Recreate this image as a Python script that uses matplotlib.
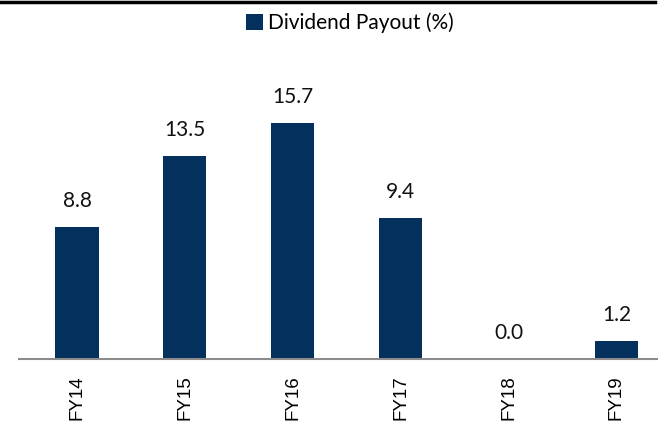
import matplotlib
matplotlib.use("Agg")
import matplotlib.pyplot as plt
from matplotlib.lines import Line2D

years = ["FY14", "FY15", "FY16", "FY17", "FY18", "FY19"]
payout = [8.8, 13.5, 15.7, 9.4, 0.0, 1.2]

NAVY = "#04305e"

fig = plt.figure(figsize=(6.58, 4.22), dpi=100)
# axes: left edge at x=19px, bottom at y=359px, top at y=40px
ax = fig.add_axes([19 / 658, (422 - 359) / 422, 1 - 19 / 658, (359 - 40) / 422])

x = list(range(len(years)))
ax.bar(x, payout, width=0.4, color=NAVY, label="Dividend Payout (%)", zorder=2)

for xi, v in zip(x, payout):
    ax.text(xi, v + 1.05, f"{v:.1f}", ha="center", va="bottom",
            fontsize=15, family="Lato", color="#111111")

ax.set_xlim(-0.5375, 5.385)
ax.set_ylim(0, (359 - 40) / 15.03)
ax.set_xticks(x)
ax.set_xticklabels(years, rotation=90, fontsize=13.5, family="Liberation Sans",
                   va="top")
ax.tick_params(axis="x", length=0, pad=12)
ax.set_yticks([])
for s in ["top", "right", "left"]:
    ax.spines[s].set_visible(False)
ax.spines["bottom"].set_color("#8c8c8c")
ax.spines["bottom"].set_linewidth(1.5)

fig.legend(loc="center", bbox_to_anchor=(350 / 658, 1 - 23 / 422),
           frameon=False, prop={"family": "Lato", "size": 15},
           handlelength=0.8, handleheight=0.8, handletextpad=0.25)

# black rule along the top
fig.add_artist(Line2D([0, 655 / 658], [1 - 1.5 / 422, 1 - 1.5 / 422],
                      color="black", linewidth=2.5, transform=fig.transFigure))

fig.savefig("out.png", dpi=100)
